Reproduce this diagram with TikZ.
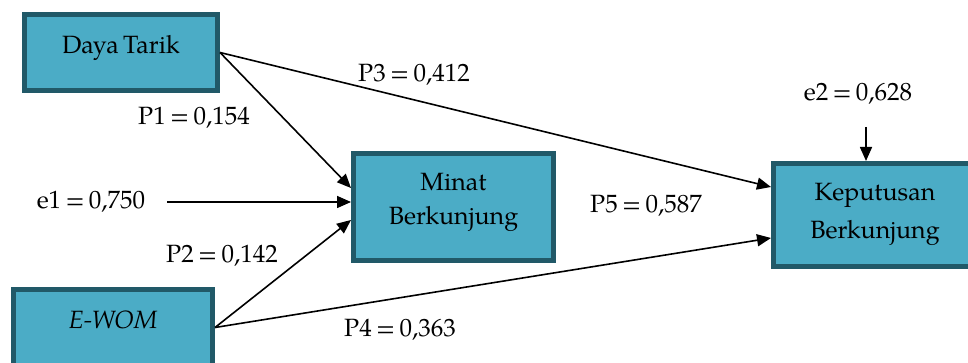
\documentclass[tikz,border=0pt]{standalone}
\usepackage{fontspec}
\setmainfont{TeX Gyre Pagella}[WordSpace=0.7]
\usetikzlibrary{arrows.meta,calc}
\definecolor{boxfill}{HTML}{4BACC6}
\definecolor{boxline}{HTML}{215968}
\begin{document}
\begin{tikzpicture}[x=1pt,y=-1pt,
  box/.style={draw=boxline, fill=boxfill, line width=5pt, inner sep=0pt, rectangle},
  txt/.style={font=\fontsize{25}{30}\selectfont, inner sep=0pt, anchor=base},
  conn/.style={line width=1.6pt, -{Triangle[length=14pt,width=12pt]}}
  ]
\useasboundingbox (0,0) rectangle (968,363);
\clip (0,0) rectangle (968,363);
% boxes
\node[box, minimum width=193pt, minimum height=76pt] (dt) at (121,52.5) {};
\node[box, minimum width=199pt, minimum height=76pt] (ewom) at (113,327.5) {};
\node[box, minimum width=200pt, minimum height=107pt] (minat) at (453.5,207) {};
\node[box, minimum width=203pt, minimum height=103pt] (kep) at (875,215) {};
% box texts
\node[txt] (dtl) at (121,54) {Daya Tarik};
\node[txt] (ewoml) at (113,328) {\itshape E-WOM};
\node[txt] (minatl1) at (453.5,191) {Minat};
\node[txt] (minatl2) at (453.5,225) {Berkunjung};
\node[txt] (kepl1) at (875,201) {Keputusan};
\node[txt] (kepl2) at (875,239) {Berkunjung};
% path labels
\node[txt] (p3) at (414,82) {P3 = 0,412};
\node[txt] (p1) at (194,125) {P1 = 0,154};
\node[txt] (e1) at (91,209) {e1 = 0,750};
\node[txt] (p2) at (222,262) {P2 = 0,142};
\node[txt] (p5) at (646,213) {P5 = 0,587};
\node[txt] (p4) at (400,336) {P4 = 0,363};
\node[txt] (e2) at (858,101) {e2 = 0,628};
% connectors
\coordinate (e1s) at (167,202);
\coordinate (e2s) at (866,127);
\draw[conn] (dt.east) -- ([yshift=19pt]minat.west);
\draw[conn] (dt.east) -- ([yshift=28pt]kep.west);
\draw[conn] (e1s) -- (e1s -| minat.west);
\draw[conn] (ewom.east) -- ([yshift=-13pt]minat.west);
\draw[conn] (ewom.east) -- ([yshift=-23pt]kep.west);
\draw[conn] (e2s) -- (e2s |- kep.north);
\end{tikzpicture}
\end{document}
